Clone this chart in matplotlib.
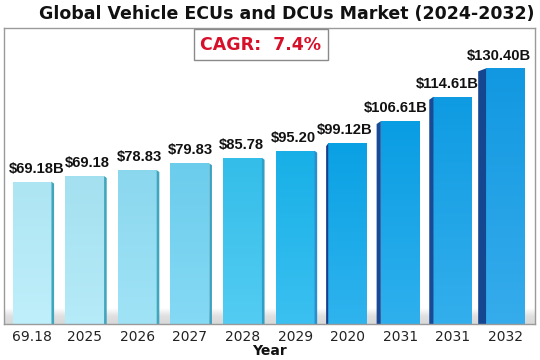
import matplotlib
matplotlib.use("Agg")
import matplotlib.pyplot as plt
import numpy as np
from matplotlib.colors import to_rgb, LinearSegmentedColormap
from matplotlib.patches import Polygon

# ---- data ----
tick_labels = ["69.18", "2025", "2026", "2027", "2028", "2029", "2020", "2031", "2031", "2032"]
bar_heights = [72.6, 75.5, 78.5, 82.0, 84.8, 88.4, 92.2, 103.5, 115.9, 130.4]
value_labels = ["$69.18B", "$69.18", "$78.83", "$79.83", "$85.78", "$95.20",
                "$99.12B", "$106.61B", "$114.61B", "$130.40B"]
bar_colors = ["#b3ecfa", "#a9e7f7", "#8fdef5", "#6fd3f3", "#35c3f0", "#18b5ee",
              "#0aa6eb", "#0aa2ea", "#0fa0e9", "#129de8"]
side_colors = ["#3fa6be", "#3fa6be", "#3fa6be", "#3aa3c2", "#2f9fc8", "#2a8fcf",
               "#1a3f8a", "#1a4a96", "#1a4a96", "#154790"]
title = "Global Vehicle ECUs and DCUs Market (2024-2032)"
cagr_text = "CAGR:  7.4%"
x_label = "Year"

fig = plt.figure(figsize=(5.4, 3.6), dpi=100)
ax = fig.add_axes([4/540, 36/360, 531/540, 296/360])
x = np.arange(len(bar_heights))
width = 0.74
ymax = 151
x0, x1 = -0.532, 9.56
ax.set_xlim(x0, x1)
ax.set_ylim(0, ymax)

# floor shading (light gray fading upward)
floor_cmap = LinearSegmentedColormap.from_list("floor", ["#ffffff", "#e0e0e0", "#d8d8d8"])
floor = np.linspace(0, 1, 64).reshape(-1, 1)
ax.imshow(floor, extent=[x0, x1, 0, 8], aspect="auto", cmap=floor_cmap,
          vmin=0, vmax=1, zorder=0.5, interpolation="bilinear")

bars = ax.bar(x, bar_heights, width=width, color=bar_colors, zorder=2, linewidth=0)

n = len(bar_heights)
for i, (b, h) in enumerate(zip(bars, bar_heights)):
    c = np.array(to_rgb(bar_colors[i]))
    top = c * 0.97
    bot = np.clip(c + (1 - c) * 0.15, 0, 1)
    grad = np.linspace(0, 1, 64).reshape(-1, 1, 1)
    img = top * (1 - grad) + bot * grad
    im = ax.imshow(img, extent=[b.get_x(), b.get_x() + width, 0, h], aspect="auto",
                   zorder=2.1, interpolation="bilinear")
    im.set_clip_path(b)
    # side faces
    if i < 6:
        d = 0.05
        xr = b.get_x() + width
        poly = Polygon([[xr, 0], [xr + d, 0], [xr + d, h - 1.0], [xr, h]],
                       closed=True, color=side_colors[i], zorder=2.2, linewidth=0)
    else:
        d = [0.04, 0.08, 0.08, 0.15][i - 6]
        xl = b.get_x()
        poly = Polygon([[xl - d, 0], [xl, 0], [xl, h], [xl - d, h - 1.5]],
                       closed=True, color=side_colors[i], zorder=2.2, linewidth=0)
    ax.add_patch(poly)
    off = 0.08 - 0.21 * i / (n - 1)
    ax.text(b.get_x() + width / 2 + off, h + 3.0, value_labels[i], ha="center", va="bottom",
            fontsize=10.6, fontweight="bold", color="#111111", zorder=3,
            family="Liberation Sans")

ax.set_xticks(x)
ax.set_xticklabels(tick_labels, fontsize=10, color="#222222")
ax.tick_params(axis="x", length=0, pad=4)
ax.set_yticks([])
for s in ax.spines.values():
    s.set_color("#9a9a9a")
    s.set_linewidth(1.0)

ax.set_xlabel(x_label, fontsize=10, fontweight="bold", color="#111111", labelpad=0)

fig.text(287/540, 1 - 14/360, title, ha="center", va="center",
         fontsize=12.5, fontweight="bold", color="#111111")

fig.text(261/540, 1 - 44.5/360, cagr_text, ha="center", va="center",
         fontsize=12.5, fontweight="bold", color="#d7102a",
         bbox=dict(boxstyle="square,pad=0.35", facecolor="white",
                   edgecolor="#8a8a8a", linewidth=1.0))

fig.savefig("out.png", dpi=100)
